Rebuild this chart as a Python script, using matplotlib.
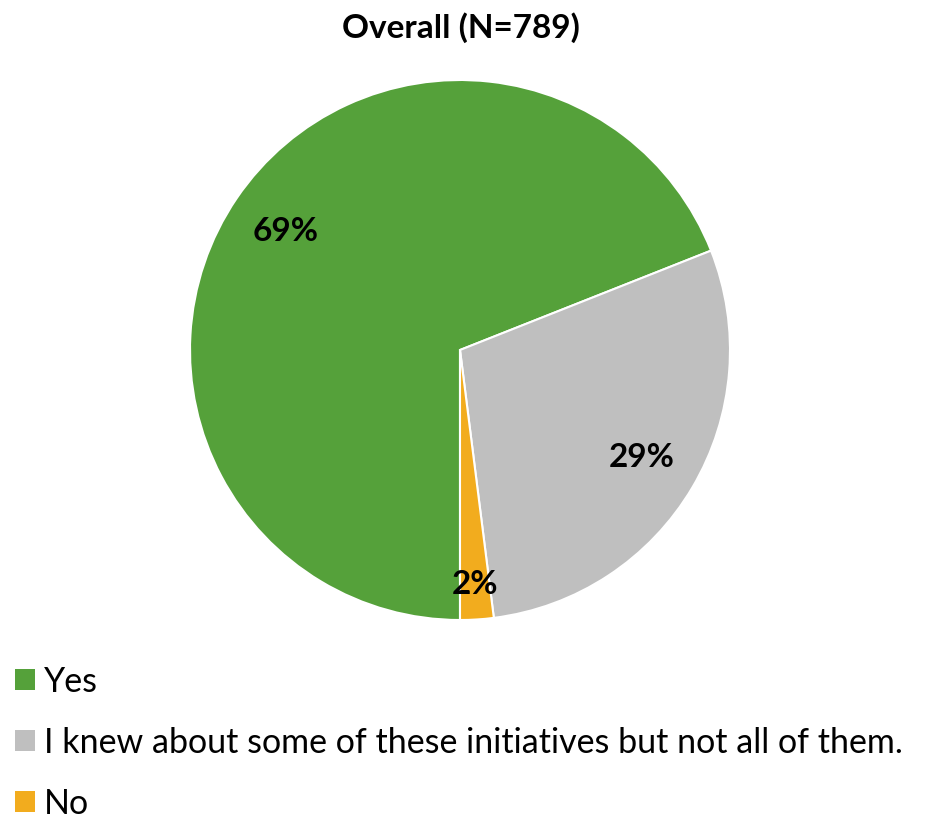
import numpy as np
import matplotlib
matplotlib.use("Agg")
import matplotlib.pyplot as plt
from matplotlib.patches import Patch

plt.rcParams['font.family'] = ['Lato', 'DejaVu Sans']

# survey answers, overall sample
answers = ["Yes",
           "I knew about some of these initiatives but not all of them.",
           "No"]
shares = [69, 29, 2]
colors = ["#55A13A", "#BFBFBF", "#F2AC1E"]
label_dist = [0.78, 0.78, 0.87]

fig = plt.figure(figsize=(9.25, 8.18), dpi=100)
ax = fig.add_axes([190 / 925, 198 / 818, 540 / 925, 540 / 818])

wedges, _ = ax.pie(shares, colors=colors, startangle=270, counterclock=False,
                   wedgeprops=dict(edgecolor="white", linewidth=1.5))
ax.set_xlim(-1, 1)
ax.set_ylim(-1, 1)
ax.set_aspect("equal")

# percentage labels at each wedge's mid angle
for w, v, d in zip(wedges, shares, label_dist):
    mid = np.deg2rad((w.theta1 + w.theta2) / 2)
    ax.text(d * np.cos(mid), d * np.sin(mid), f"{v}%", ha="center", va="center",
            fontsize=24, fontweight="bold", color="black")

fig.text(461 / 925, 1 - 28 / 818, "Overall (N=789)", ha="center", va="center",
         fontsize=24, fontweight="bold")

handles = [Patch(facecolor=c, edgecolor="none") for c in colors]
fig.legend(handles, answers, loc="upper left", bbox_to_anchor=(8 / 925, 1 - 659 / 818),
           frameon=False, fontsize=24.5, handlelength=0.58, handleheight=0.58,
           handletextpad=0.27, labelspacing=0.85, borderpad=0.2, borderaxespad=0)

fig.savefig("out.png", dpi=100)
